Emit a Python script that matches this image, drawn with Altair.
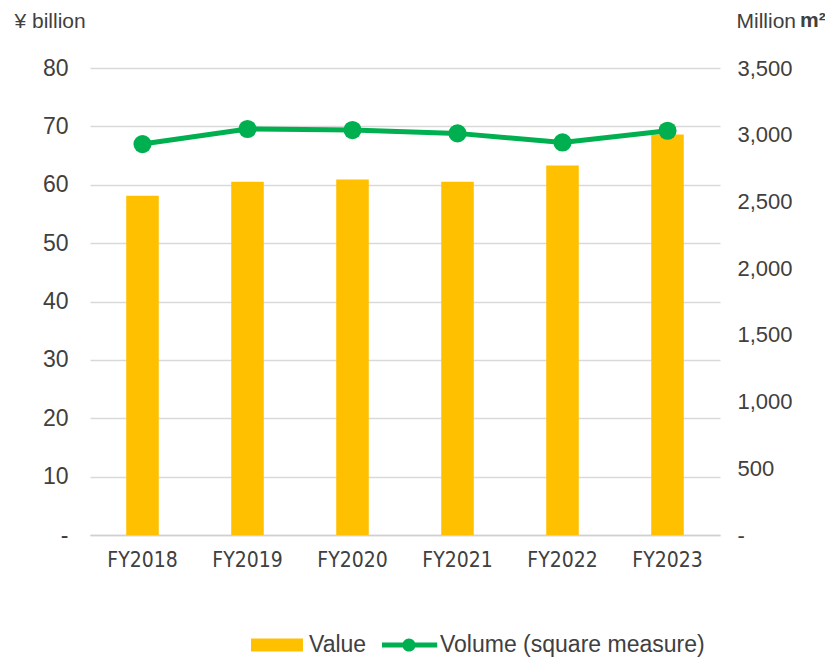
import altair as alt
import pandas as pd

years = ["FY2018", "FY2019", "FY2020", "FY2021", "FY2022", "FY2023"]
value_bn = [58.1, 60.5, 60.9, 60.5, 63.3, 68.6]
volume_m2 = [2930, 3043, 3035, 3010, 2942, 3030]
series_names = ["Value", "Volume (square measure)"]

YELLOW = "#FFC000"
GREEN = "#00B050"
TXT = "#404040"
GRID = "#D9D9D9"
FONT = "Liberation Sans"
NARROW = "DejaVu Sans Condensed"

df = pd.DataFrame({"year": years, "value": value_bn, "volume": volume_m2})

x = alt.X("year:N", sort=years, title=None,
          scale=alt.Scale(paddingInner=0, paddingOuter=0),
          axis=alt.Axis(labelAngle=0, ticks=False, domainColor="#D0D0D0", domainWidth=1.5,
                        labelFont=NARROW, labelFontSize=21, labelColor=TXT, labelPadding=14,
                        grid=False))

bars = alt.Chart(df).mark_bar(color=YELLOW, width={"band": 0.31}).encode(
    x=x,
    y=alt.Y("value:Q", scale=alt.Scale(domain=[0, 80], nice=False),
            axis=alt.Axis(values=list(range(0, 81, 10)), grid=True, gridColor=GRID, gridWidth=1.3,
                          domain=False, ticks=False, labelFont=FONT, labelFontSize=23,
                          labelColor=TXT, labelPadding=22, labelOverlap=False,
                          labelExpr="datum.value == 0 ? '-' : datum.label",
                          title="¥ billion", titleAngle=0, titleAlign="left",
                          titleBaseline="alphabetic", titleX=-76, titleY=-41,
                          titleFont=FONT, titleFontSize=21, titleFontWeight="normal",
                          titleColor=TXT)),
)

line = alt.Chart(df).mark_line(
    color=GREEN, strokeWidth=5,
    point=alt.OverlayMarkDef(filled=True, size=330, color=GREEN, opacity=1),
).encode(
    x=x,
    y=alt.Y("volume:Q", scale=alt.Scale(domain=[0, 3500], nice=False),
            axis=alt.Axis(orient="right", values=list(range(0, 3501, 500)), grid=False,
                          domain=False, ticks=False, labelFont=FONT,
                          labelFontSize=22, labelColor=TXT, labelPadding=17, labelOverlap=False,
                          labelExpr="datum.value == 0 ? '-' : format(datum.value, ',')",
                          title="Million", titleAngle=0, titleAlign="left",
                          titleBaseline="alphabetic", titleX=16, titleY=-41,
                          titleFont=FONT, titleFontSize=21, titleFontWeight="normal",
                          titleColor=TXT)),
)

# legend symbols: box of 24px (unit = 12px); paths drawn wider than the box
rect_path = "M-1,-0.54H3.33V0.54H-1Z"
line_dot_path = ("M-1,-0.2H3.6V0.2H-1Z "
                 "M0.7,0A0.55,0.55 0 1,1 1.8,0A0.55,0.55 0 1,1 0.7,0Z")

leg = alt.Legend(orient="none", legendX=161, legendY=565,
                 direction="horizontal", title=None,
                 symbolSize=576, symbolStrokeWidth=0, symbolOpacity=1,
                 labelFont=FONT, labelFontSize=23, labelColor=TXT, labelLimit=500,
                 labelOffset=34, columnPadding=15)

legend_df = pd.DataFrame({"series": series_names})
legend_layer = alt.Chart(legend_df).mark_point(filled=True, opacity=1).encode(
    color=alt.Color("series:N", scale=alt.Scale(domain=series_names, range=[YELLOW, GREEN]),
                    legend=leg),
    shape=alt.Shape("series:N", scale=alt.Scale(domain=series_names,
                                                 range=[rect_path, line_dot_path]),
                    legend=leg),
).transform_filter("false")

m2 = alt.Chart(pd.DataFrame({"t": ["m²"]})).mark_text(
    font=FONT, fontSize=21, fontWeight="bold", color=TXT, align="left", baseline="alphabetic"
).encode(x=alt.value(710), y=alt.value(-41), text="t:N")

right = alt.layer(line, legend_layer, m2)

chart = alt.layer(bars, right).resolve_scale(y="independent").properties(
    width=630, height=467,
    autosize=alt.AutoSizeParams(type="none"),
    padding={"left": 82, "top": 60, "right": 105, "bottom": 122},
).configure_view(stroke=None)

chart.save("out.html", embed_options={"renderer": "svg", "actions": False})
